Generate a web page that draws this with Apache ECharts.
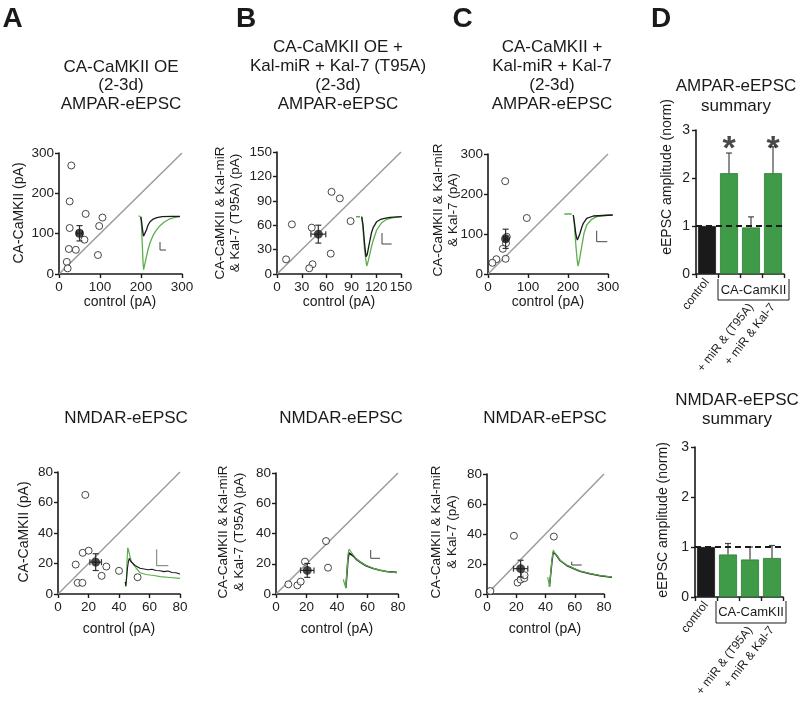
<!DOCTYPE html>
<html><head><meta charset="utf-8">
<script src="https://cdn.jsdelivr.net/npm/echarts/dist/echarts.min.js"></script>
<style>html,body{margin:0;padding:0;background:#fff}#c{width:800px;height:703px}</style>
</head><body><div id="c"></div><script>
const FONT = '"Liberation Sans", Arial, Helvetica, sans-serif';
const INK = '#1a1a1a';
const GREEN_TRACE = '#5cae4c';
const GREEN_BAR = '#3f9b47';

// ---------- Scatter data (control pA vs experimental pA) ----------
const A_ampControl = [30, 26, 26, 24, 41, 19, 21, 65, 62, 106, 98, 95];
const A_ampExp     = [269, 180, 114, 62, 60, 30, 14, 149, 85, 140, 119, 47];
const A_ampMean    = [50, 101];
const A_ampSem     = [7, 19];

const B_ampControl = [66, 76, 18, 89, 42, 11, 65, 43, 39];
const B_ampExp     = [101, 93, 61, 65, 57, 18, 25, 12, 7];
const B_ampMean    = [50, 49];
const B_ampSem     = [9, 11];

const C_ampControl = [43, 97, 47, 45, 37, 44, 21, 11];
const C_ampExp     = [232, 140, 93, 77, 63, 38, 37, 28];
const C_ampMean    = [44, 88];
const C_ampSem     = [4, 24];

const A_nmdaControl = [17.9, 16.2, 20.1, 11.6, 12.9, 16, 28.6, 31.7, 40, 52.2];
const A_nmdaExp     = [65, 27, 28.4, 19.3, 7.3, 7.3, 11.9, 18, 15.2, 11];
const A_nmdaMean    = [24.7, 20.9];
const A_nmdaSem     = [3.8, 5.5];

const B_nmdaControl = [32.8, 19, 34.1, 8.1, 14, 16.2];
const B_nmdaExp     = [35, 21.4, 17.4, 6.4, 5.7, 8.2];
const B_nmdaMean    = [20.5, 15.6];
const B_nmdaSem     = [4.4, 4.6];

const C_nmdaControl = [18.4, 45.7, 2.3, 20.9, 23, 25.5, 25.7];
const C_nmdaExp     = [38.8, 38.3, 2, 7.6, 9.6, 10.5, 12.5];
const C_nmdaMean    = [23, 16.9];
const C_nmdaSem     = [4.9, 5.6];

// ---------- Bar data (normalised eEPSC amplitude) ----------
const barCatsNear = ['control', '', '', ''];
const barCatsFar  = ['', '', '+ miR & (T95A)', '+ miR & Kal-7'];
const ampBars  = [1.0, 2.1, 0.97, 2.1];
const ampErr   = [0, 0.42, 0.22, 0.55];
const ampStars = ['', '*', '', '*'];
const nmdaBars = [1.0, 0.85, 0.75, 0.78];
const nmdaErr  = [0, 0.22, 0.25, 0.25];
const nmdaStars = ['', '', '', ''];

// ---------- Example traces [time, current] ----------
const A_ampDash  = [[2.5, 0.5], [4, 0.5]];
const A_ampBlack = [[4.7,0],[5.5,-4],[6.5,-13],[7.5,-19.5],[8.3,-21.5],[9.3,-18],[10.5,-13],[12,-8.5],[14,-5],[17,-2.5],[21,-1],[26,0],[36,0.3],[44,0.3]];
const A_ampGreen = [[4.7,0],[5.5,-9],[6.3,-28],[7,-45],[7.6,-53],[8.5,-51],[10,-42],[12,-33],[14,-26],[17,-19],[20,-14],[24,-9],[28,-5.5],[33,-2.5],[38,-1],[44,0]];
const A_ampScale = [[24,-25.3],[24,-33.3],[30,-33.3]];

const B_ampDash  = [[0,0],[4,0]];
const B_ampBlack = [[5.7,0],[7,-8],[8.5,-26],[10,-40],[11.2,-38],[12.5,-31],[14,-23.3],[15.5,-16],[17.3,-10.6],[20.7,-5],[24,-3],[27.3,-2],[34,-0.6],[45.7,0]];
const B_ampGreen = [[5.7,0],[7,-12],[8.5,-33],[10.7,-49.3],[12.3,-44],[14,-36.6],[15.5,-30],[17.3,-23.3],[20.7,-13.3],[25.7,-6],[30.7,-2.6],[37.3,-1],[45.7,0]];
const B_ampScale = [[26,-16.3],[26,-27.3],[35.7,-27.3]];

const C_ampDash  = [[0.3,1],[7.7,1]];
const C_ampBlack = [[9.3,0],[10.5,-8],[11.8,-19],[13.3,-25],[14.5,-22.5],[16,-18.3],[17.7,-12.5],[19.3,-8.3],[22.7,-3.3],[29.3,-1],[48.7,0]];
const C_ampGreen = [[9.3,0],[10.5,-12],[12,-32],[13.3,-46],[14,-51],[15,-47],[16,-41.7],[17.7,-31.7],[20,-18.3],[22.7,-10],[27.7,-4.3],[32.7,-1.7],[40,-0.5],[48.7,0]];
const C_ampScale = [[32.7,-15.7],[32.7,-26.7],[43.3,-26.7]];

const A_nmdaGreen = [[1.3,1],[1.8,-3.7],[2.5,5],[3,20],[3.7,35.3],[4.5,33],[6,26.3],[7.5,21],[9.3,19.7],[12,15],[16,10.3],[22,8.5],[30,7.5],[36,6.3],[46,5.5],[56,4.7]];
const A_nmdaBlack = [[1.3,1],[1.8,-3],[2.5,4],[3.5,15],[4.5,22],[5.3,24.7],[6.5,22],[8,20],[11,17.5],[16,14.7],[20,14],[24,13.2],[28,13.8],[32,12.5],[36,12.3],[40,11.4],[44,12],[48,10.5],[52,10.2],[56,9]];
const A_nmdaScale = [[32.7,33.7],[32.7,17.3],[44.3,17.3]];

const B_nmdaGreen = [[1.3,3.7],[3.3,3.7],[3.8,-5.3],[5,12],[6,28],[7,34],[8,33],[11.3,28],[14,24.5],[18,21.3],[24,17.5],[31.3,14.7],[38,12.8],[44.7,11.3],[54.7,10.3]];
const B_nmdaBlack = [[3.8,-5],[5,10],[6,24],[7,30],[8,30.5],[11.3,27],[14,24],[18,21],[24,17.3],[31.3,14.5],[38,12.7],[44.7,11.5],[54.7,10.6]];
const B_nmdaScale = [[28.7,33],[28.7,24.7],[38,24.7]];

const C_nmdaGreen = [[1.7,6],[3,6],[3.5,-4],[4.5,8],[6,24],[7.3,33],[8.5,30.5],[10.7,28],[14,23],[20.7,18],[28,14.5],[34,12],[44,9.5],[54,7.5],[66,6]];
const C_nmdaBlack = [[3.5,-3.5],[4.5,7],[6,22],[7.3,31],[8.5,30],[10.7,27.5],[14,22.5],[20.7,17.5],[28,14.2],[34,11.8],[44,9.2],[54,7.2],[66,5.8]];
const C_nmdaScale = [[25.7,21.3],[25.7,18],[35.7,18]];

// ---------- builders ----------
const grids = [], xAxes = [], yAxes = [], series = [], graphics = [];
function addGrid(r) { grids.push(Object.assign({containLabel: false}, r)); return grids.length - 1; }

const axisLine = {show: true, onZero: false, lineStyle: {color: INK, width: 1.6}};
const axisTick = {show: true, inside: false, length: 4, lineStyle: {color: INK, width: 1.4}};
const tickLabel = (m) => ({fontFamily: FONT, fontSize: 13.5, color: '#222', margin: m});

function errXY(params, api) {
  const x = api.value(0), y = api.value(1), ex = api.value(2), ey = api.value(3);
  const l = api.coord([x - ex, y]), r = api.coord([x + ex, y]);
  const t = api.coord([x, y + ey]), b = api.coord([x, y - ey]);
  const c = 3;
  const st = () => ({stroke: '#333', lineWidth: 1.2});
  return {type: 'group', children: [
    {type: 'line', shape: {x1: l[0], y1: l[1], x2: r[0], y2: r[1]}, style: st()},
    {type: 'line', shape: {x1: t[0], y1: t[1], x2: b[0], y2: b[1]}, style: st()},
    {type: 'line', shape: {x1: l[0], y1: l[1] - c, x2: l[0], y2: l[1] + c}, style: st()},
    {type: 'line', shape: {x1: r[0], y1: r[1] - c, x2: r[0], y2: r[1] + c}, style: st()},
    {type: 'line', shape: {x1: t[0] - c, y1: t[1], x2: t[0] + c, y2: t[1]}, style: st()},
    {type: 'line', shape: {x1: b[0] - c, y1: b[1], x2: b[0] + c, y2: b[1]}, style: st()}
  ]};
}

function scatterPanel(rect, max, interval, ctrl, exp, mean, sem) {
  const gi = addGrid(rect);
  xAxes.push({gridIndex: gi, type: 'value', min: 0, max, interval, axisLine, axisTick,
    axisLabel: tickLabel(6), splitLine: {show: false}});
  yAxes.push({gridIndex: gi, type: 'value', min: 0, max, interval, axisLine, axisTick,
    axisLabel: tickLabel(5), splitLine: {show: false}});
  const ai = xAxes.length - 1;
  series.push({type: 'line', xAxisIndex: ai, yAxisIndex: ai, data: [[0, 0], [max, max]], symbol: 'none',
    lineStyle: {color: '#9c9c9c', width: 1.5}, silent: true, z: 1, animation: false});
  series.push({type: 'scatter', xAxisIndex: ai, yAxisIndex: ai, data: ctrl.map((c, i) => [c, exp[i]]),
    symbol: 'circle', symbolSize: 7, itemStyle: {color: '#fff', borderColor: INK, borderWidth: 1}, z: 3, animation: false});
  series.push({type: 'custom', xAxisIndex: ai, yAxisIndex: ai, data: [[mean[0], mean[1], sem[0], sem[1]]],
    renderItem: errXY, z: 4, animation: false});
  series.push({type: 'scatter', xAxisIndex: ai, yAxisIndex: ai, data: [[mean[0], mean[1]]],
    symbol: 'circle', symbolSize: 9, itemStyle: {color: INK}, z: 5, animation: false});
}

function inset(rect, xmax, ymin, ymax, lines) {
  const gi = addGrid(rect);
  xAxes.push({gridIndex: gi, type: 'value', min: 0, max: xmax, show: false});
  yAxes.push({gridIndex: gi, type: 'value', min: ymin, max: ymax, show: false});
  const ai = xAxes.length - 1;
  lines.forEach(l => series.push({type: 'line', xAxisIndex: ai, yAxisIndex: ai, data: l[0], symbol: 'none',
    lineStyle: {color: l[1], width: l[2]}, z: l[3], silent: true, animation: false, clip: false}));
}

function errUp(params, api) {
  const i = api.value(0), v = api.value(1), e = api.value(2);
  if (!e) return null;
  const p0 = api.coord([i, v]), p1 = api.coord([i, v + e]);
  const c = 3;
  return {type: 'group', children: [
    {type: 'line', shape: {x1: p0[0], y1: p0[1], x2: p1[0], y2: p1[1]}, style: {stroke: '#444', lineWidth: 1.2}},
    {type: 'line', shape: {x1: p1[0] - c, y1: p1[1], x2: p1[0] + c, y2: p1[1]}, style: {stroke: '#444', lineWidth: 1.2}}
  ]};
}

function barPanel(rect, vals, errs, stars) {
  const gi = addGrid(rect);
  const base = {gridIndex: gi, type: 'category', position: 'bottom'};
  xAxes.push(Object.assign({}, base, {data: barCatsNear, axisLine, axisTick: Object.assign({}, axisTick, {interval: 0, alignWithLabel: false}),
    axisLabel: {interval: 0, rotate: 52, margin: 6, fontFamily: FONT, fontSize: 12, color: '#222'}}));
  const ai = xAxes.length - 1;
  xAxes.push(Object.assign({}, base, {data: barCatsFar, axisLine: {show: false}, axisTick: {show: false},
    axisLabel: {interval: 0, rotate: 52, margin: 31, fontFamily: FONT, fontSize: 12, color: '#222'}}));
  yAxes.push({gridIndex: gi, type: 'value', min: 0, max: 3, interval: 1, axisLine, axisTick,
    axisLabel: Object.assign(tickLabel(6), {fontSize: 14}), splitLine: {show: false}});
  const yi = yAxes.length - 1;
  series.push({type: 'bar', xAxisIndex: ai, yAxisIndex: yi, barWidth: 18, animation: false,
    data: vals.map((v, i) => ({value: v, itemStyle: {color: i === 0 ? INK : GREEN_BAR, borderColor: i === 0 ? INK : '#2f7a36', borderWidth: 0.8}})),
    markLine: {silent: true, symbol: ['none', 'none'], label: {show: false}, animation: false,
      lineStyle: {color: INK, type: [6, 4], width: 2}, data: [{yAxis: 1}]}, z: 2});
  series.push({type: 'custom', xAxisIndex: ai, yAxisIndex: yi, renderItem: errUp, z: 3, animation: false,
    data: vals.map((v, i) => [i, v, errs[i]])});
  series.push({type: 'scatter', xAxisIndex: ai, yAxisIndex: yi, symbolSize: 0, animation: false, z: 4,
    data: vals.map((v, i) => stars[i] ? [i, 2.6] : null).filter(d => d),
    label: {show: true, position: 'inside', formatter: '*', fontFamily: FONT, fontSize: 34, fontWeight: 'bold', color: INK}});
}

// ---------- panels ----------
scatterPanel({left: 59, top: 153, width: 123, height: 121}, 300, 100, A_ampControl, A_ampExp, A_ampMean, A_ampSem);
scatterPanel({left: 277, top: 152, width: 124, height: 122}, 150, 30, B_ampControl, B_ampExp, B_ampMean, B_ampSem);
scatterPanel({left: 488, top: 154, width: 120, height: 120}, 300, 100, C_ampControl, C_ampExp, C_ampMean, C_ampSem);
scatterPanel({left: 58, top: 472, width: 122, height: 122}, 80, 20, A_nmdaControl, A_nmdaExp, A_nmdaMean, A_nmdaSem);
scatterPanel({left: 276, top: 473, width: 122, height: 121}, 80, 20, B_nmdaControl, B_nmdaExp, B_nmdaMean, B_nmdaSem);
scatterPanel({left: 487, top: 474, width: 117, height: 120}, 80, 20, C_nmdaControl, C_nmdaExp, C_nmdaMean, C_nmdaSem);

inset({left: 136, top: 210.7, width: 46, height: 61}, 46, -55, 6,
  [[A_ampDash, GREEN_TRACE, 1.2, 6], [A_ampBlack, INK, 1.3, 7], [A_ampGreen, GREEN_TRACE, 1.3, 6], [A_ampScale, '#444', 1, 6]]);
inset({left: 356, top: 210, width: 46, height: 60}, 46, -53.3, 6.7,
  [[B_ampDash, GREEN_TRACE, 1.5, 6], [B_ampBlack, INK, 1.3, 7], [B_ampGreen, GREEN_TRACE, 1.3, 6], [B_ampScale, '#444', 1, 6]]);
inset({left: 564, top: 208, width: 49, height: 62}, 49, -55, 7,
  [[C_ampDash, GREEN_TRACE, 1.6, 6], [C_ampBlack, INK, 1.3, 7], [C_ampGreen, GREEN_TRACE, 1.3, 6], [C_ampScale, '#444', 1, 6]]);
inset({left: 124, top: 545, width: 58, height: 45}, 58, -7, 38,
  [[A_nmdaBlack, INK, 1.1, 7], [A_nmdaGreen, GREEN_TRACE, 1.2, 6], [A_nmdaScale, '#777', 1, 6]]);
inset({left: 342, top: 545, width: 56, height: 45}, 56, -7, 38,
  [[B_nmdaBlack, INK, 1.6, 6], [B_nmdaGreen, GREEN_TRACE, 1.2, 7], [B_nmdaScale, '#444', 1, 6]]);
inset({left: 546, top: 545, width: 68, height: 45}, 68, -7, 38,
  [[C_nmdaBlack, INK, 1.5, 6], [C_nmdaGreen, GREEN_TRACE, 1.2, 7], [C_nmdaScale, '#444', 1, 6]]);

barPanel({left: 696, top: 130, width: 88, height: 144}, ampBars, ampErr, ampStars);
barPanel({left: 695, top: 447, width: 88, height: 150}, nmdaBars, nmdaErr, nmdaStars);

// ---------- text ----------
function txt(text, x, y, size, opt) {
  opt = opt || {};
  graphics.push({type: 'text', x, y, rotation: opt.rot || 0, silent: true, z: 100,
    style: {text, fontFamily: FONT, fontSize: size, fontWeight: opt.weight || 'normal', fill: INK,
      align: opt.align || 'center', verticalAlign: 'middle'}});
}
const ROT = Math.PI / 2;
// panel letters
txt('A', 12.5, 19.5, 28, {weight: 'bold'});
txt('B', 246, 19.5, 28, {weight: 'bold'});
txt('C', 462.5, 19.5, 28, {weight: 'bold'});
txt('D', 661, 19.5, 28, {weight: 'bold'});
// titles
[['CA-CaMKII OE', 67], ['(2-3d)', 85.5], ['AMPAR-eEPSC', 104]].forEach(l => txt(l[0], 121, l[1], 17));
[['CA-CaMKII OE +', 47], ['Kal-miR + Kal-7 (T95A)', 66], ['(2-3d)', 85], ['AMPAR-eEPSC', 104]].forEach(l => txt(l[0], 338, l[1], 17));
[['CA-CaMKII +', 47], ['Kal-miR + Kal-7', 66], ['(2-3d)', 85], ['AMPAR-eEPSC', 104]].forEach(l => txt(l[0], 552, l[1], 17));
[['AMPAR-eEPSC', 86], ['summary', 106]].forEach(l => txt(l[0], 736, l[1], 17));
[['NMDAR-eEPSC', 400], ['summary', 419]].forEach(l => txt(l[0], 737, l[1], 17));
txt('NMDAR-eEPSC', 126, 418, 17);
txt('NMDAR-eEPSC', 341, 418, 17);
txt('NMDAR-eEPSC', 545, 418, 17);
// x axis names
[[120, 302], [339, 302], [548, 302], [119, 629], [337, 629], [545, 629]].forEach(p => txt('control (pA)', p[0], p[1], 14));
// y axis names
txt('CA-CaMKII (pA)', 19, 213, 14, {rot: ROT});
txt('CA-CaMKII (pA)', 24, 532, 14, {rot: ROT});
txt('CA-CaMKII & Kal-miR', 220, 213, 13.5, {rot: ROT});
txt('& Kal-7 (T95A) (pA)', 235, 213, 13.5, {rot: ROT});
txt('CA-CaMKII & Kal-miR', 223, 532, 13.5, {rot: ROT});
txt('& Kal-7 (T95A) (pA)', 239, 532, 13.5, {rot: ROT});
txt('CA-CaMKII & Kal-miR', 438, 210, 13.5, {rot: ROT});
txt('& Kal-7 (pA)', 453, 210, 13.5, {rot: ROT});
txt('CA-CaMKII & Kal-miR', 436, 532, 13.5, {rot: ROT});
txt('& Kal-7 (pA)', 452, 532, 13.5, {rot: ROT});
txt('eEPSC amplitude (norm)', 667, 177, 14, {rot: ROT});
txt('eEPSC amplitude (norm)', 663, 520, 14, {rot: ROT});
// CA-CamKII group brackets
graphics.push({type: 'polyline', silent: true, shape: {points: [[718, 279], [718, 300], [789, 300], [789, 279]]}, style: {stroke: INK, lineWidth: 1, fill: null}});
txt('CA-CamKII', 753.5, 290, 13);
graphics.push({type: 'polyline', silent: true, shape: {points: [[716, 601], [716, 623], [786, 623], [786, 601]]}, style: {stroke: INK, lineWidth: 1, fill: null}});
txt('CA-CamKII', 751, 612, 13);

const chart = echarts.init(document.getElementById('c'), null, {renderer: 'canvas'});
chart.setOption({
  backgroundColor: '#fff',
  animation: false,
  grid: grids, xAxis: xAxes, yAxis: yAxes, series, graphic: graphics,
  tooltip: {show: false}
});
</script></body></html>
